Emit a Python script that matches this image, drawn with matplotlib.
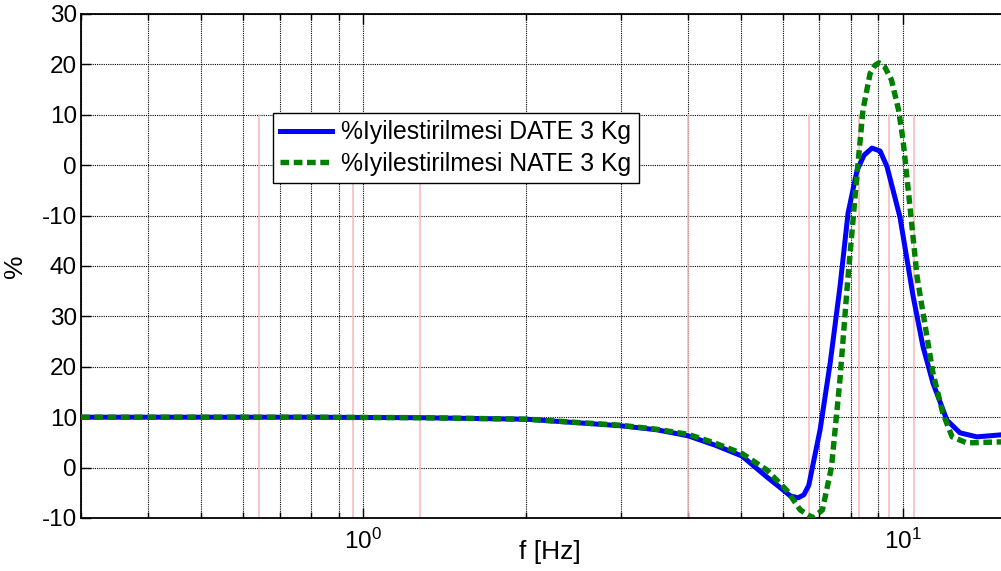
import matplotlib.pyplot as plt

plt.rcParams['font.family'] = ['Liberation Sans', 'DejaVu Sans']
plt.rcParams['mathtext.fontset'] = 'custom'
plt.rcParams['mathtext.rm'] = 'Liberation Sans'

# frekans [Hz] ve iyilestirme yuzdesi
f_date = [0.30, 0.764, 1.275, 2.01, 3.00, 3.50, 4.00, 4.50, 5.03, 5.60, 5.99, 6.18, 6.39,
          6.55, 6.69, 7.02, 7.33, 7.64, 7.91, 8.22, 8.47, 8.76, 9.07, 9.34, 9.87, 10.44,
          10.89, 11.36, 12.06, 12.75, 13.7, 15.19, 16.4]
y_date = [10.0, 10.0, 9.9, 9.6, 8.3, 7.5, 6.3, 4.4, 2.3, -1.9, -4.4, -5.6, -6.0,
          -5.4, -3.5, 7.5, 20.8, 35.8, 50.5, 59.0, 62.0, 63.4, 62.8, 59.7, 49.7, 34.0,
          24.0, 16.8, 9.4, 6.9, 6.1, 6.5, 6.6]

f_nate = [0.30, 0.764, 1.275, 2.01, 3.00, 3.50, 4.00, 4.50, 5.03, 5.60, 6.10, 6.45, 6.81,
          7.09, 7.37, 7.64, 7.88, 8.22, 8.43, 8.69, 8.87, 9.02, 9.25, 9.52, 9.81, 10.0,
          10.27, 10.62, 10.89, 11.36, 11.85, 12.33, 13.13, 15.19, 16.4]
y_nate = [10.0, 10.0, 9.9, 9.6, 8.4, 7.6, 6.6, 4.8, 2.8, -0.5, -4.6, -8.4, -10.0,
          -8.4, 0.1, 17.4, 35.8, 58.4, 71.0, 78.2, 79.8, 80.3, 79.5, 76.9, 71.0, 65.0,
          53.1, 37.8, 30.7, 18.8, 10.8, 6.1, 4.9, 5.1, 5.2]

# acik kirmizi dikey cizgiler
f_marks = [0.64, 0.958, 1.275, 4.0, 6.69, 8.28, 9.42, 10.5]

y_ticks = [-10, 0, 10, 20, 30, 40, 50, 60, 70, 80, 90]
y_ticklabels = ['-10', '0', '10', '20', '30', '40', '-10', '0', '10', '20', '30']

fig = plt.figure(figsize=(10.01, 5.71), dpi=100)
ax = fig.add_axes([81/1001, 53/571, 938/1001, 504/571])

for fm in f_marks:
    ax.plot([fm, fm], [-10, 70], color='#f5b8b8', lw=1.1, zorder=1)

ax.plot(f_date, y_date, color='#0000ff', lw=3.6, label='%Iyilestirilmesi DATE 3 Kg', zorder=3)
ax.plot(f_nate, y_nate, color='#007f00', lw=3.9, linestyle=(0, (1.6, 0.85)),
        label='%Iyilestirilmesi NATE 3 Kg', zorder=4)

ax.set_xscale('log')
ax.set_xlim(0.3, 16.4)
ax.set_ylim(-10, 90)
ax.set_yticks(y_ticks)
ax.set_yticklabels(y_ticklabels)

ax.grid(True, which='both', axis='x', color='black', linestyle=(0, (1, 1)), lw=0.8, zorder=0)
ax.grid(True, which='major', axis='y', color='black', linestyle=(0, (1, 1)), lw=0.8, zorder=0)
ax.set_axisbelow(True)

ax.tick_params(which='both', direction='in', top=True, right=True, labelsize=17.5, width=1)
ax.tick_params(which='major', length=7)
ax.tick_params(which='minor', length=4)
ax.tick_params(axis='x', pad=8)
ax.tick_params(axis='y', pad=3)
for s in ax.spines.values():
    s.set_linewidth(1.3)

ax.set_xlabel('f [Hz]', fontsize=19)
ax.xaxis.set_label_coords(0.5, -0.044)
ax.set_ylabel('%', fontsize=19)
ax.yaxis.set_label_coords(-0.058, 0.5)

leg = ax.legend(loc='upper left', bbox_to_anchor=(0.2047, 0.8036), borderaxespad=0,
                fontsize=17.8, fancybox=False, framealpha=1, edgecolor='black',
                handlelength=2.1, handletextpad=0.35, borderpad=0.3, labelspacing=0.3)
leg.get_frame().set_linewidth(1.0)

fig.savefig('out.png', dpi=100)
